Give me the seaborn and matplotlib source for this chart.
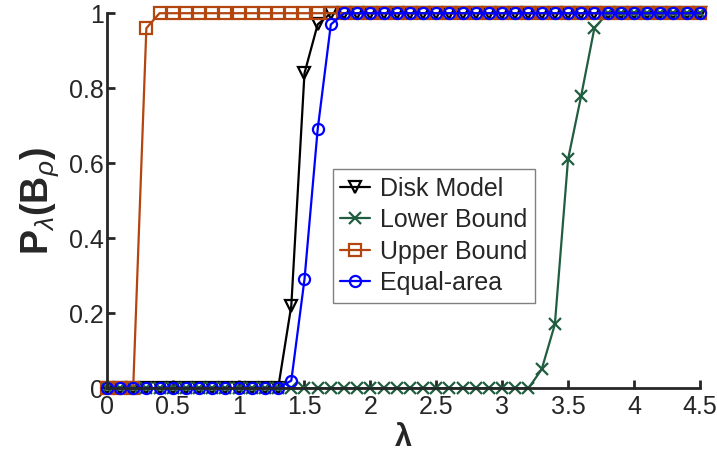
import numpy as np
import pandas as pd
import seaborn as sns
from matplotlib import pyplot as plt

# lambda grid, step 0.1 (46 points)
lam = np.round(np.arange(0, 4.51, 0.1), 1)

disk_model = [0] * 14 + [0.22, 0.84, 0.97] + [1] * 29
lower_bound = [0] * 33 + [0.05, 0.17, 0.61, 0.78, 0.96] + [1] * 8
upper_bound = [0, 0, 0, 0.96] + [1] * 42
equal_area = [0] * 14 + [0.02, 0.29, 0.69, 0.97] + [1] * 28

series = [
    ('Disk Model', disk_model, 'v', '#000000'),
    ('Lower Bound', lower_bound, 'x', '#215E41'),
    ('Upper Bound', upper_bound, 's', '#B3450F'),
    ('Equal-area', equal_area, 'o', '#0000FF'),
]

sns.set_style('ticks')
plt.rcParams['font.family'] = ['Liberation Sans', 'DejaVu Sans']
plt.rcParams['mathtext.fontset'] = 'custom'
plt.rcParams['mathtext.rm'] = 'Liberation Sans'
plt.rcParams['mathtext.it'] = 'Liberation Sans:italic'
plt.rcParams['mathtext.bf'] = 'Liberation Sans:bold'

fig = plt.figure(figsize=(7.17, 4.55), dpi=100)
ax = fig.add_axes([0.149, 0.147, 0.827, 0.824])

for name, vals, mk, col in series:
    df = pd.DataFrame({'lam': lam, 'p': vals})
    sns.lineplot(data=df, x='lam', y='p', ax=ax, color=col, marker=mk,
                 markersize=8, markerfacecolor='none', markeredgecolor=col,
                 markeredgewidth=1.6, linewidth=1.6, label=name, clip_on=False)

ax.set_xlim(0, 4.5)
ax.set_ylim(0, 1)
ax.set_xticks(np.arange(0, 4.51, 0.5))
ax.set_xticklabels(['0', '0.5', '1', '1.5', '2', '2.5', '3', '3.5', '4', '4.5'])
ax.set_yticks([0, 0.2, 0.4, 0.6, 0.8, 1])
ax.set_yticklabels(['0', '0.2', '0.4', '0.6', '0.8', '1'])
ax.tick_params(direction='in', length=6, width=2, labelsize=18)
ax.tick_params(axis='x', pad=5)
ax.tick_params(axis='y', pad=2)
for s in ['top', 'right']:
    ax.spines[s].set_visible(False)
for s in ['left', 'bottom']:
    ax.spines[s].set_linewidth(2)

ax.set_xlabel(r'$\mathbf{\lambda}$', fontsize=22, labelpad=3)
ax.set_ylabel(r'$\mathbf{P}_{\lambda}\mathbf{(B}_{\rho}\mathbf{)}$', fontsize=27, labelpad=6)

leg = ax.legend(loc='upper left', bbox_to_anchor=(0.381, 0.584), fontsize=18,
                handlelength=1.2, handletextpad=0.4, borderpad=0.3,
                labelspacing=0.3, borderaxespad=0, frameon=True, fancybox=False,
                edgecolor='#808080', framealpha=1)
leg.get_frame().set_linewidth(1)

fig.savefig('out.png', dpi=100)
